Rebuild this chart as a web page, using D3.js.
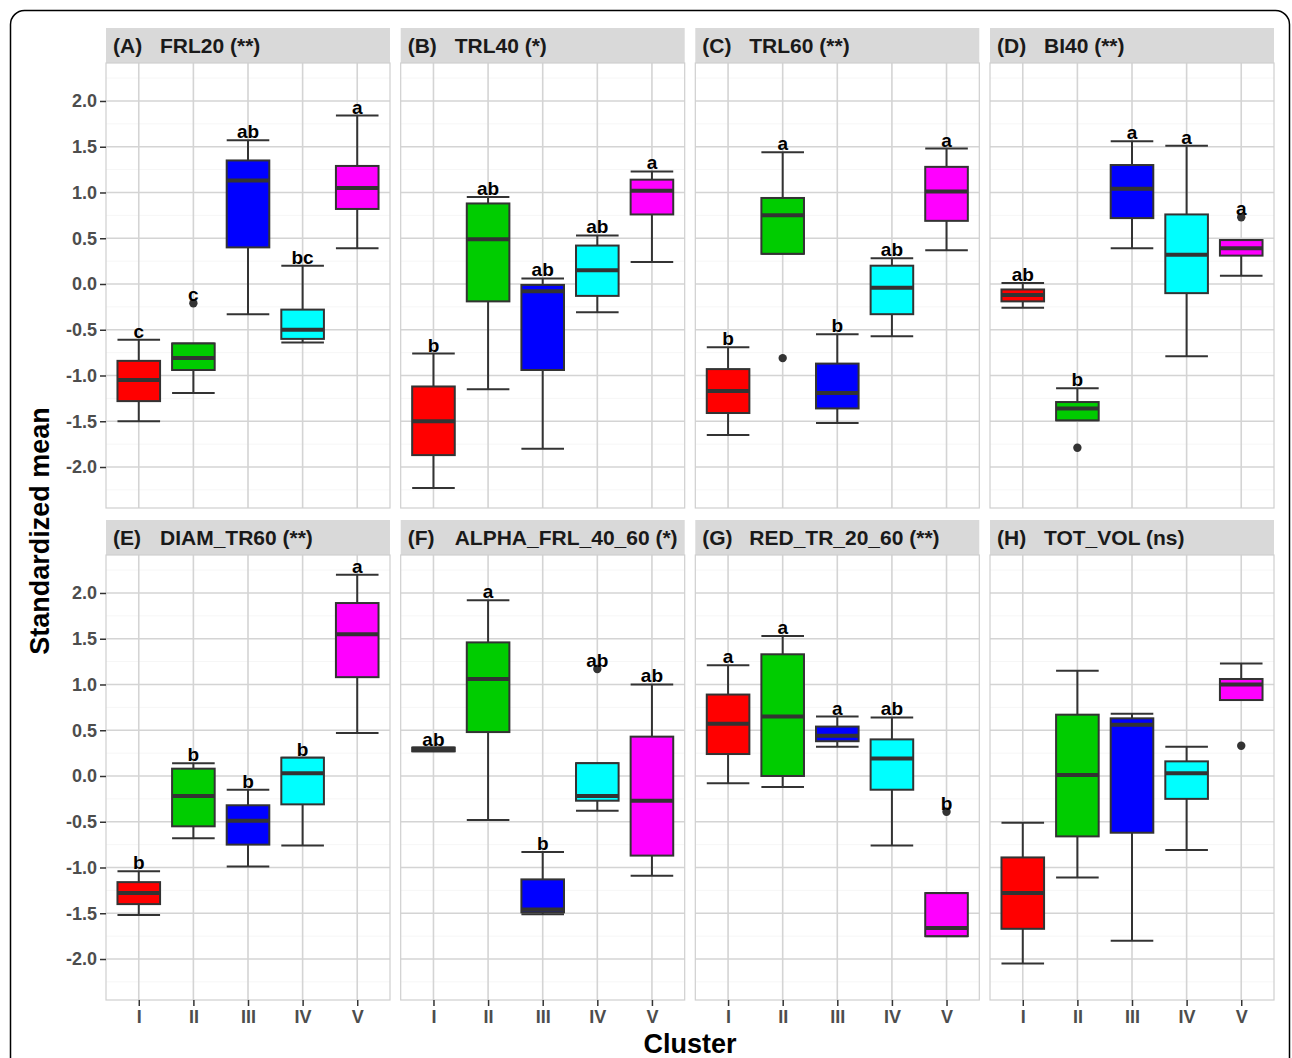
<!DOCTYPE html>
<html>
<head>
<meta charset="utf-8">
<script src="https://cdn.jsdelivr.net/npm/d3@7"></script>
<style>
body { margin: 0; background: #fff; }
text { font-family: "Liberation Sans", Arial, sans-serif; font-weight: bold; }
</style>
</head>
<body>
<script>
const clusters = ["I", "II", "III", "IV", "V"];
const panelTags = ["(A)", "(B)", "(C)", "(D)", "(E)", "(F)", "(G)", "(H)"];
const panelNames = ["FRL20 (**)", "TRL40 (*)", "TRL60 (**)", "BI40 (**)",
    "DIAM_TR60 (**)", "ALPHA_FRL_40_60 (*)", "RED_TR_20_60 (**)", "TOT_VOL (ns)"];
const yTicks = [-2.0, -1.5, -1.0, -0.5, 0.0, 0.5, 1.0, 1.5, 2.0];

// box statistics per panel, one value per cluster
const whiskerLow = [
    [-1.50, -1.19, -0.33, -0.64, 0.39],
    [-2.23, -1.15, -1.80, -0.31, 0.24],
    [-1.65, 0.33, -1.52, -0.57, 0.37],
    [-0.26, -1.49, 0.39, -0.79, 0.09],
    [-1.52, -0.68, -0.99, -0.76, 0.47],
    [0.27, -0.48, -1.51, -0.38, -1.09],
    [-0.08, -0.12, 0.32, -0.76, -1.75],
    [-2.05, -1.11, -1.80, -0.81, 0.83]
];
const lowerQuartile = [
    [-1.28, -0.94, 0.40, -0.60, 0.82],
    [-1.87, -0.19, -0.94, -0.13, 0.76],
    [-1.41, 0.33, -1.36, -0.33, 0.69],
    [-0.19, -1.49, 0.72, -0.10, 0.31],
    [-1.40, -0.55, -0.75, -0.31, 1.08],
    [0.27, 0.48, -1.49, -0.27, -0.87],
    [0.24, 0.00, 0.38, -0.15, -1.75],
    [-1.67, -0.66, -0.62, -0.25, 0.83]
];
const medians = [
    [-1.05, -0.81, 1.13, -0.50, 1.05],
    [-1.50, 0.49, -0.08, 0.15, 1.02],
    [-1.17, 0.75, -1.19, -0.04, 1.01],
    [-0.12, -1.36, 1.04, 0.32, 0.39],
    [-1.28, -0.22, -0.49, 0.03, 1.55],
    [0.29, 1.06, -1.46, -0.22, -0.27],
    [0.57, 0.65, 0.44, 0.19, -1.66],
    [-1.28, 0.01, 0.56, 0.03, 1.00]
];
const upperQuartile = [
    [-0.84, -0.65, 1.35, -0.28, 1.29],
    [-1.12, 0.88, -0.01, 0.42, 1.14],
    [-0.93, 0.94, -0.87, 0.20, 1.28],
    [-0.06, -1.29, 1.30, 0.76, 0.48],
    [-1.16, 0.08, -0.32, 0.20, 1.89],
    [0.31, 1.46, -1.13, 0.14, 0.43],
    [0.89, 1.33, 0.54, 0.40, -1.28],
    [-0.89, 0.67, 0.63, 0.16, 1.06]
];
const whiskerHigh = [
    [-0.61, -0.65, 1.57, 0.20, 1.84],
    [-0.76, 0.95, 0.06, 0.53, 1.23],
    [-0.69, 1.44, -0.55, 0.28, 1.48],
    [0.01, -1.14, 1.56, 1.51, 0.48],
    [-1.04, 0.14, -0.15, 0.20, 2.20],
    [0.31, 1.92, -0.83, 0.14, 1.00],
    [1.21, 1.53, 0.65, 0.64, -1.28],
    [-0.51, 1.15, 0.68, 0.32, 1.23]
];
const outliers = [
    [[], [-0.21], [], [], []],
    [[], [], [], [], []],
    [[], [-0.81], [], [], []],
    [[], [-1.79], [], [], [0.73]],
    [[], [], [], [], []],
    [[], [], [], [1.17], []],
    [[], [], [], [], [-0.39]],
    [[], [], [], [], [0.33]]
];
const letters = [
    ["c", "c", "ab", "bc", "a"],
    ["b", "ab", "ab", "ab", "a"],
    ["b", "a", "b", "ab", "a"],
    ["ab", "b", "a", "a", "a"],
    ["b", "b", "b", "b", "a"],
    ["ab", "a", "b", "ab", "ab"],
    ["a", "a", "a", "ab", "b"],
    ["", "", "", "", ""]
];

const colors = ["#ff0000", "#00cc00", "#0000ff", "#00ffff", "#ff00ff"];

const width = 1292;
const height = 1058;
const panelW = 284;
const panelH = 445;
const stripH = 35;
const panelLefts = [106, 400.7, 695.3, 990];
const stripTops = [28, 520];

const svg = d3.select("body").append("svg")
    .attr("width", width)
    .attr("height", height);

svg.append("rect")
    .attr("x", 10.5).attr("y", 10.5)
    .attr("width", 1279).attr("height", 1080)
    .attr("rx", 14)
    .style("fill", "none")
    .style("stroke", "#000")
    .style("stroke-width", 1.5);

const x = d3.scalePoint().domain(clusters).range([0, panelW]).padding(0.6);
const y = d3.scaleLinear().domain([-2.448, 2.415]).range([panelH, 0]);
const boxW = x.step() * 0.78;
const minorTicks = d3.range(-2.25, 2.5, 0.5);

panelNames.forEach((name, p) => {
    const col = p % 4;
    const row = Math.floor(p / 4);
    const left = panelLefts[col];
    const stripTop = stripTops[row];
    const top = stripTop + stripH;

    // strip
    svg.append("rect")
        .attr("x", left).attr("y", stripTop)
        .attr("width", panelW).attr("height", stripH)
        .style("fill", "#d9d9d9");
    svg.append("text")
        .attr("x", left + 7).attr("y", stripTop + 25)
        .style("font-size", "21px").style("fill", "#1a1a1a")
        .text(panelTags[p]);
    svg.append("text")
        .attr("x", left + 54).attr("y", stripTop + 25)
        .style("font-size", "21px").style("fill", "#1a1a1a")
        .text(name);

    const g = svg.append("g").attr("transform", `translate(${left},${top})`);

    // grid
    g.selectAll(".minor").data(minorTicks).enter().append("line")
        .attr("x1", 0).attr("x2", panelW)
        .attr("y1", d => y(d)).attr("y2", d => y(d))
        .style("stroke", "#f6f6f6").style("stroke-width", 1);
    g.selectAll(".hgrid").data(yTicks).enter().append("line")
        .attr("x1", 0).attr("x2", panelW)
        .attr("y1", d => y(d)).attr("y2", d => y(d))
        .style("stroke", "#d4d4d4").style("stroke-width", 1.6);
    g.selectAll(".vgrid").data(clusters).enter().append("line")
        .attr("x1", d => x(d)).attr("x2", d => x(d))
        .attr("y1", 0).attr("y2", panelH)
        .style("stroke", "#d4d4d4").style("stroke-width", 1.6);
    g.append("rect")
        .attr("width", panelW).attr("height", panelH)
        .style("fill", "none").style("stroke", "#cfcfcf").style("stroke-width", 1.2);

    // axes
    if (col === 0) {
        const ya = g.append("g").call(d3.axisLeft(y).tickValues(yTicks).tickFormat(d => d.toFixed(1)).tickSize(6).tickPadding(3));
        ya.select(".domain").remove();
        ya.selectAll("line").style("stroke", "#333").style("stroke-width", 1.5);
        ya.selectAll("text").style("font-size", "18px").style("fill", "#4d4d4d")
            .style("font-family", "'Liberation Sans', Arial, sans-serif");
    }
    if (row === 1) {
        const xa = g.append("g").attr("transform", `translate(0,${panelH})`)
            .call(d3.axisBottom(x).tickSize(6).tickPadding(4));
        xa.select(".domain").remove();
        xa.selectAll("line").style("stroke", "#333").style("stroke-width", 1.5);
        xa.selectAll("text").style("font-size", "18px").style("fill", "#4d4d4d")
            .style("font-family", "'Liberation Sans', Arial, sans-serif");
    }

    const stats = clusters.map((c, i) => ({
        c, i,
        lo: whiskerLow[p][i], q1: lowerQuartile[p][i], med: medians[p][i],
        q3: upperQuartile[p][i], hi: whiskerHigh[p][i],
        out: outliers[p][i], label: letters[p][i]
    }));

    const boxes = g.selectAll(".box").data(stats).enter().append("g");

    boxes.append("line")
        .attr("x1", d => x(d.c)).attr("x2", d => x(d.c))
        .attr("y1", d => y(d.lo)).attr("y2", d => y(d.hi))
        .style("stroke", "#333").style("stroke-width", 2);
    boxes.append("line")
        .attr("x1", d => x(d.c) - boxW / 2).attr("x2", d => x(d.c) + boxW / 2)
        .attr("y1", d => y(d.hi)).attr("y2", d => y(d.hi))
        .style("stroke", "#333").style("stroke-width", 2);
    boxes.append("line")
        .attr("x1", d => x(d.c) - boxW / 2).attr("x2", d => x(d.c) + boxW / 2)
        .attr("y1", d => y(d.lo)).attr("y2", d => y(d.lo))
        .style("stroke", "#333").style("stroke-width", 2);
    boxes.append("rect")
        .attr("x", d => x(d.c) - boxW / 2)
        .attr("y", d => y(d.q3))
        .attr("width", boxW)
        .attr("height", d => y(d.q1) - y(d.q3))
        .style("fill", d => colors[d.i])
        .style("stroke", "#333").style("stroke-width", 2);
    boxes.append("line")
        .attr("x1", d => x(d.c) - boxW / 2).attr("x2", d => x(d.c) + boxW / 2)
        .attr("y1", d => y(d.med)).attr("y2", d => y(d.med))
        .style("stroke", "#333").style("stroke-width", 4);
    boxes.selectAll("circle").data(d => d.out.map(v => ({ c: d.c, v }))).enter().append("circle")
        .attr("cx", d => x(d.c)).attr("cy", d => y(d.v))
        .attr("r", 4.2)
        .style("fill", "#333");
    boxes.append("text")
        .attr("x", d => x(d.c))
        .attr("y", d => y(d3.max([d.hi, ...d.out])) - 2)
        .attr("text-anchor", "middle")
        .style("font-size", "19px").style("fill", "#000")
        .text(d => d.label);
});

svg.append("text")
    .attr("transform", "translate(49,531) rotate(-90)")
    .attr("text-anchor", "middle")
    .style("font-size", "27px").style("fill", "#000")
    .text("Standardized mean");

svg.append("text")
    .attr("x", 690).attr("y", 1053)
    .attr("text-anchor", "middle")
    .style("font-size", "27px").style("fill", "#000")
    .text("Cluster");
</script>
</body>
</html>
